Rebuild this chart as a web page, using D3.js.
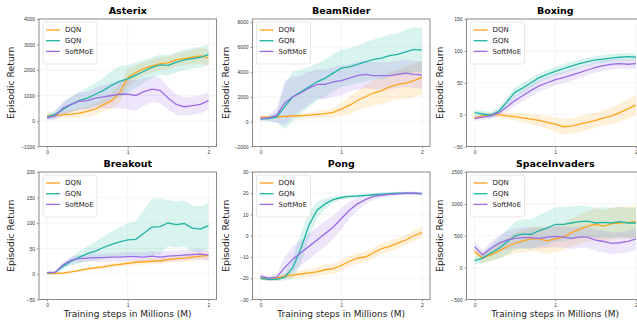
<!DOCTYPE html>
<html>
<head>
<meta charset="utf-8">
<script src="https://cdn.jsdelivr.net/npm/d3@7"></script>
<style>
  body { margin: 0; background: #fff; }
  svg { font-family: "DejaVu Sans", sans-serif; }
</style>
</head>
<body>
<svg id="chart" width="637" height="321"></svg>
<script>
// training steps (millions), shared by every curve
const steps = [0, 0.1, 0.2, 0.3, 0.4, 0.5, 0.6, 0.7, 0.8, 0.9, 1.0, 1.1, 1.2, 1.3, 1.4, 1.5, 1.6, 1.7, 1.8, 1.9, 2.0];
const methods = ["DQN", "GQN", "SoftMoE"];
const games = ["Asterix", "BeamRider", "Boxing", "Breakout", "Pong", "SpaceInvaders"];

// y ranges and ticks per game
const yDomains = [[-1000, 4000], [-2000, 8250], [-50, 150], [-50, 200], [-30, 30], [-500, 1500]];
const yTicks = [
  [-1000, 0, 1000, 2000, 3000, 4000],
  [-2000, 0, 2000, 4000, 6000, 8000],
  [-50, 0, 50, 100, 150],
  [-50, 0, 50, 100, 150, 200],
  [-30, -20, -10, 0, 10, 20, 30],
  [-500, 0, 500, 1000, 1500]
];

// mean returns
const asterixDQN     = [200, 220, 250, 270, 310, 380, 470, 640, 800, 1100, 1700, 1900, 2050, 2150, 2250, 2280, 2400, 2450, 2500, 2550, 2480];
const asterixGQN     = [150, 260, 450, 650, 800, 900, 1050, 1200, 1400, 1550, 1650, 1800, 1950, 2100, 2200, 2180, 2300, 2400, 2450, 2500, 2600];
const asterixSoftMoE = [120, 200, 520, 650, 780, 800, 900, 950, 1000, 1050, 1050, 1000, 1150, 1250, 1200, 900, 650, 560, 600, 650, 800];

const beamDQN     = [350, 360, 380, 420, 450, 480, 520, 580, 650, 750, 1000, 1300, 1700, 2000, 2300, 2500, 2800, 3000, 3100, 3300, 3550];
const beamGQN     = [200, 250, 350, 1200, 2000, 2400, 2800, 3200, 3500, 3900, 4300, 4400, 4600, 4800, 5000, 5100, 5300, 5400, 5600, 5800, 5750];
const beamSoftMoE = [250, 300, 500, 1500, 2000, 2300, 2700, 3000, 3000, 3200, 3300, 3500, 3700, 3800, 3700, 3700, 3700, 3800, 3900, 3800, 3750];

const boxingDQN     = [-5, -2, 0, 0, -2, -3, -5, -7, -9, -12, -15, -19, -18, -15, -12, -9, -5, -2, 3, 9, 15];
const boxingGQN     = [3, 1, -1, 5, 20, 35, 42, 50, 58, 63, 68, 72, 76, 80, 83, 86, 87, 89, 90, 91, 90];
const boxingSoftMoE = [-6, -4, -2, 3, 12, 22, 30, 38, 45, 50, 55, 58, 62, 66, 70, 74, 77, 79, 80, 79, 80];

const breakoutDQN     = [1, 1, 2, 4, 7, 10, 12, 14, 17, 19, 21, 23, 24, 25, 26, 28, 30, 31, 33, 35, 36];
const breakoutGQN     = [2, 3, 15, 25, 33, 40, 45, 52, 58, 63, 67, 68, 80, 92, 93, 100, 97, 99, 90, 88, 95];
const breakoutSoftMoE = [3, 3, 18, 27, 30, 31, 32, 32, 33, 33, 34, 34, 33, 35, 33, 35, 36, 37, 38, 39, 37];

const pongDQN     = [-20, -20.5, -20, -19, -18.5, -18, -17.5, -17, -16, -15.5, -14, -12, -10.5, -10, -8, -6, -5, -3.5, -2, 0, 1.5];
const pongGQN     = [-20, -20.5, -20.5, -19.5, -15, -6, 5, 12, 15, 17, 18, 18.5, 18.7, 19, 19.3, 19.6, 19.8, 20, 20, 20, 19.8];
const pongSoftMoE = [-19, -20, -19.5, -15, -11, -8, -5, -2, 1, 4, 8, 12, 15, 17, 18.5, 19, 19.5, 19.7, 20, 20, 19.8];

const spaceDQN     = [250, 150, 200, 260, 330, 380, 420, 450, 450, 420, 450, 480, 550, 600, 650, 680, 650, 690, 700, 710, 720];
const spaceGQN     = [110, 150, 230, 300, 400, 500, 530, 520, 580, 620, 680, 680, 700, 720, 730, 700, 710, 700, 720, 700, 700];
const spaceSoftMoE = [330, 200, 300, 380, 430, 460, 470, 470, 460, 480, 490, 480, 460, 480, 480, 430, 410, 380, 390, 410, 450];

// half-width of the shaded band
const asterixDQNBand     = [80, 100, 120, 150, 180, 200, 220, 250, 300, 350, 350, 300, 250, 250, 250, 250, 250, 250, 280, 300, 320];
const asterixGQNBand     = [100, 150, 250, 300, 350, 400, 450, 500, 550, 600, 550, 500, 450, 400, 400, 400, 400, 400, 400, 400, 400];
const asterixSoftMoEBand = [80, 150, 250, 300, 350, 350, 400, 450, 500, 550, 600, 600, 550, 500, 500, 450, 400, 350, 350, 350, 350];

const beamDQNBand     = [80, 100, 100, 100, 120, 150, 200, 250, 300, 350, 500, 700, 800, 900, 1000, 1100, 1150, 1200, 1300, 1300, 1350];
const beamGQNBand     = [150, 200, 400, 1800, 2000, 1800, 1600, 1500, 1500, 1500, 1500, 1500, 1500, 1600, 1600, 1700, 1700, 1700, 1800, 1800, 1800];
const beamSoftMoEBand = [150, 200, 600, 1800, 1600, 1400, 1300, 1200, 1200, 1200, 1200, 1100, 1100, 1100, 1100, 1100, 1100, 1100, 1100, 1100, 1100];

const boxingDQNBand     = [3, 3, 3, 4, 5, 6, 7, 8, 9, 10, 11, 12, 12, 12, 12, 12, 12, 13, 14, 15, 16];
const boxingGQNBand     = [5, 5, 5, 6, 7, 8, 8, 8, 7, 7, 7, 7, 7, 7, 6, 6, 6, 6, 6, 6, 6];
const boxingSoftMoEBand = [4, 4, 4, 5, 7, 8, 9, 9, 9, 9, 9, 9, 9, 9, 8, 8, 8, 8, 8, 8, 8];

const breakoutDQNBand     = [1, 1, 1, 2, 2, 3, 3, 4, 4, 5, 5, 5, 6, 6, 6, 6, 7, 7, 8, 8, 9];
const breakoutGQNBand     = [1, 2, 5, 8, 12, 15, 18, 22, 25, 28, 32, 36, 45, 55, 55, 45, 45, 45, 45, 45, 45];
const breakoutSoftMoEBand = [1, 2, 5, 7, 7, 7, 8, 8, 8, 8, 9, 9, 9, 10, 10, 10, 10, 10, 10, 10, 10];

const pongDQNBand     = [0.7, 0.8, 1, 1.2, 1.5, 1.8, 2, 2.2, 2.5, 2.5, 2.5, 2.5, 2.5, 2.5, 2.5, 2.5, 2.5, 2.5, 2.5, 2.5, 2.5];
const pongGQNBand     = [0.7, 0.8, 0.8, 1.5, 5, 7, 6, 4, 2.5, 1.5, 1, 0.8, 0.7, 0.7, 0.7, 0.7, 0.7, 0.7, 0.7, 0.7, 0.7];
const pongSoftMoEBand = [0.8, 0.8, 1.5, 5, 6, 6, 6, 6, 6, 5.5, 5, 4, 3, 2, 1.5, 1, 0.8, 0.7, 0.7, 0.7, 0.7];

const spaceDQNBand     = [60, 80, 100, 120, 140, 160, 180, 190, 200, 200, 200, 210, 220, 230, 240, 250, 250, 250, 250, 250, 250];
const spaceGQNBand     = [60, 80, 120, 160, 200, 220, 230, 240, 250, 260, 270, 270, 260, 250, 240, 240, 240, 240, 240, 240, 240];
const spaceSoftMoEBand = [80, 80, 100, 120, 140, 150, 160, 160, 160, 170, 170, 170, 170, 170, 170, 170, 170, 170, 170, 170, 170];

const means = [
  [asterixDQN, asterixGQN, asterixSoftMoE],
  [beamDQN, beamGQN, beamSoftMoE],
  [boxingDQN, boxingGQN, boxingSoftMoE],
  [breakoutDQN, breakoutGQN, breakoutSoftMoE],
  [pongDQN, pongGQN, pongSoftMoE],
  [spaceDQN, spaceGQN, spaceSoftMoE]
];
const bands = [
  [asterixDQNBand, asterixGQNBand, asterixSoftMoEBand],
  [beamDQNBand, beamGQNBand, beamSoftMoEBand],
  [boxingDQNBand, boxingGQNBand, boxingSoftMoEBand],
  [breakoutDQNBand, breakoutGQNBand, breakoutSoftMoEBand],
  [pongDQNBand, pongGQNBand, pongSoftMoEBand],
  [spaceDQNBand, spaceGQNBand, spaceSoftMoEBand]
];

const colors = ["#ffa41b", "#1fb5a3", "#9a6ce6"];

// layout of the 2x3 grid
const colLeft = [39, 252.5, 466.5];
const panelW = 177.5;
const rowTop = [19, 172];
const panelH = 127.5;

const svg = d3.select("#chart");

games.forEach((game, gi) => {
  const col = gi % 3, row = Math.floor(gi / 3);
  const g = svg.append("g")
    .attr("transform", `translate(${colLeft[col]}, ${rowTop[row]})`);

  const x = d3.scaleLinear().domain([-0.1, 2.1]).range([0, panelW]);
  const y = d3.scaleLinear().domain(yDomains[gi]).range([panelH, 0]);

  // grid
  g.append("g").selectAll("line").data([0, 1, 2]).join("line")
    .attr("x1", d => x(d)).attr("x2", d => x(d))
    .attr("y1", 0).attr("y2", panelH)
    .attr("stroke", "#eeeeee").attr("stroke-width", 0.6);
  g.append("g").selectAll("line").data(yTicks[gi]).join("line")
    .attr("x1", 0).attr("x2", panelW)
    .attr("y1", d => y(d)).attr("y2", d => y(d))
    .attr("stroke", "#eeeeee").attr("stroke-width", 0.6);

  // bands then lines
  const area = d3.area()
    .x((d, i) => x(steps[i]))
    .y0(d => y(d[0] - d[1]))
    .y1(d => y(d[0] + d[1]));
  const line = d3.line()
    .x((d, i) => x(steps[i]))
    .y(d => y(d));

  methods.forEach((m, mi) => {
    const pts = means[gi][mi].map((v, i) => [v, bands[gi][mi][i]]);
    g.append("path").attr("d", area(pts))
      .attr("fill", colors[mi]).attr("fill-opacity", 0.17);
  });
  methods.forEach((m, mi) => {
    g.append("path").attr("d", line(means[gi][mi]))
      .attr("fill", "none").attr("stroke", colors[mi]).attr("stroke-width", 1.3);
  });

  // axes
  const xAxis = g.append("g")
    .attr("transform", `translate(0, ${panelH})`)
    .call(d3.axisBottom(x).tickValues([0, 1, 2]).tickFormat(d3.format("d")).tickSize(2).tickPadding(2));
  const yAxis = g.append("g")
    .call(d3.axisLeft(y).tickValues(yTicks[gi]).tickFormat(d => d < 0 ? "\u2212" + Math.abs(d) : d).tickSize(2).tickPadding(2));
  [xAxis, yAxis].forEach(a => {
    a.select(".domain").remove();
    a.selectAll("line").attr("stroke", "#555").attr("stroke-width", 0.6);
    a.selectAll("text").attr("fill", "#333").style("font-size", "5px");
  });

  // frame
  g.append("rect")
    .attr("x", 0).attr("y", 0).attr("width", panelW).attr("height", panelH)
    .attr("fill", "none").attr("stroke", "#8a8a8a").attr("stroke-width", 1);

  // title
  g.append("text")
    .attr("x", panelW / 2).attr("y", -5)
    .attr("text-anchor", "middle")
    .style("font-size", "9.5px").style("font-weight", "bold")
    .text(game);

  // y label
  g.append("text")
    .attr("transform", `translate(${-25 + (col === 0 ? 0 : 1)}, ${panelH / 2}) rotate(-90)`)
    .attr("text-anchor", "middle")
    .style("font-size", "9.3px").attr("fill", "#222")
    .text("Episodic Return");

  // x label on bottom row
  if (row === 1) {
    g.append("text")
      .attr("x", panelW / 2).attr("y", panelH + 17)
      .attr("text-anchor", "middle")
      .style("font-size", "9px").attr("fill", "#222")
      .text("Training steps in Millions (M)");
  }

  // legend
  const lg = g.append("g").attr("transform", "translate(4, 3)");
  lg.append("rect")
    .attr("width", 54).attr("height", 42).attr("rx", 2)
    .attr("fill", "#fff").attr("fill-opacity", 0.8)
    .attr("stroke", "#dddddd").attr("stroke-width", 0.7);
  methods.forEach((m, mi) => {
    lg.append("line")
      .attr("x1", 3).attr("x2", 17)
      .attr("y1", 8 + mi * 10.7).attr("y2", 8 + mi * 10.7)
      .attr("stroke", colors[mi]).attr("stroke-width", 1.3);
    lg.append("text")
      .attr("x", 22).attr("y", 8 + mi * 10.7).attr("dy", "0.35em")
      .style("font-size", "7px").attr("fill", "#222")
      .text(m);
  });
});
</script>
</body>
</html>
